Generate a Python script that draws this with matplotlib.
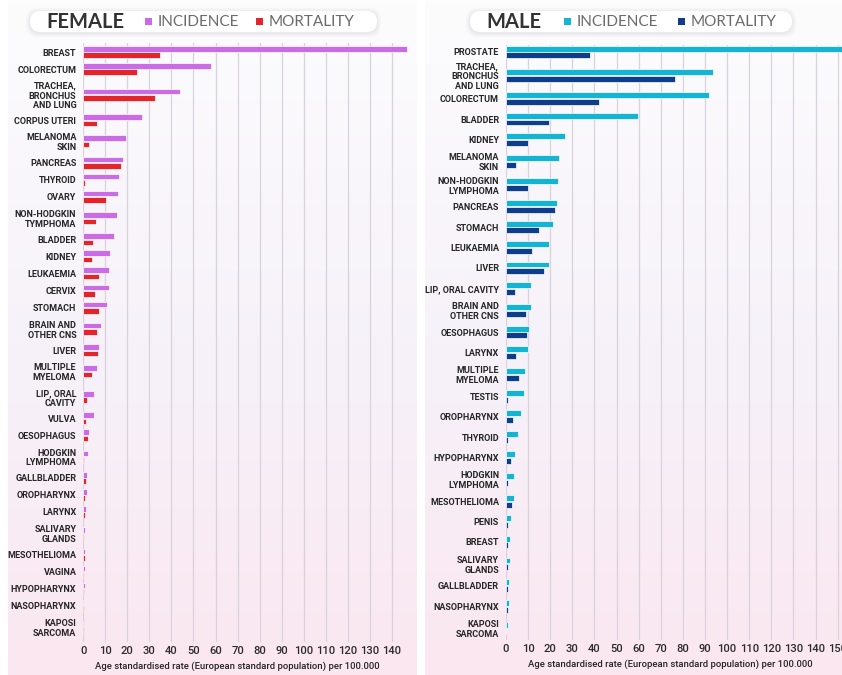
import numpy as np
import matplotlib
matplotlib.use("Agg")
import matplotlib.pyplot as plt
from matplotlib.patches import FancyBboxPatch, Rectangle

# --- data (age standardised rate per 100.000) ---
female_sites = ["BREAST", "COLORECTUM", "TRACHEA,\nBRONCHUS\nAND LUNG", "CORPUS UTERI",
                "MELANOMA\nSKIN", "PANCREAS", "THYROID", "OVARY", "NON-HODGKIN\nTYMPHOMA",
                "BLADDER", "KIDNEY", "LEUKAEMIA", "CERVIX", "STOMACH", "BRAIN AND\nOTHER CNS",
                "LIVER", "MULTIPLE\nMYELOMA", "LIP, ORAL\nCAVITY", "VULVA", "OESOPHAGUS",
                "HODGKIN\nLYMPHOMA", "GALLBLADDER", "OROPHARYNX", "LARYNX", "SALIVARY\nGLANDS",
                "MESOTHELIOMA", "VAGINA", "HYPOPHARYNX", "NASOPHARYNX", "KAPOSI\nSARCOMA"]
female_incidence = [147.0, 57.9, 44.0, 26.5, 19.4, 17.9, 16.2, 15.7, 15.3,
                    14.1, 12.3, 11.8, 11.6, 10.6, 7.9,
                    7.3, 6.0, 5.0, 4.7, 2.6,
                    2.3, 1.8, 1.8, 1.4, 0.9,
                    0.9, 0.9, 0.7, 0.5, 0.3]
female_mortality = [34.6, 24.5, 32.7, 6.0, 2.7, 16.9, 0.9, 10.3, 5.6,
                    4.5, 4.1, 7.0, 5.4, 7.3, 6.0,
                    6.5, 3.8, 1.7, 1.4, 2.0,
                    0.4, 1.2, 0.8, 0.6, 0.3,
                    0.8, 0.5, 0.3, 0.3, 0.1]

male_sites = ["PROSTATE", "TRACHEA,\nBRONCHUS\nAND LUNG", "COLORECTUM", "BLADDER", "KIDNEY",
              "MELANOMA\nSKIN", "NON-HODGKIN\nLYMPHOMA", "PANCREAS", "STOMACH", "LEUKAEMIA",
              "LIVER", "LIP, ORAL CAVITY", "BRAIN AND\nOTHER CNS", "OESOPHAGUS", "LARYNX",
              "MULTIPLE\nMYELOMA", "TESTIS", "OROPHARYNX", "THYROID", "HYPOPHARYNX",
              "HODGKIN\nLYMPHOMA", "MESOTHELIOMA", "PENIS", "BREAST", "SALIVARY\nGLANDS",
              "GALLBLADDER", "NASOPHARYNX", "KAPOSI\nSARCOMA"]
male_incidence = [158.0, 93.7, 92.0, 59.9, 26.7,
                  24.0, 23.7, 23.1, 21.1, 19.5,
                  19.6, 11.5, 11.2, 10.6, 10.1,
                  8.7, 8.3, 6.6, 5.4, 4.2,
                  3.5, 3.5, 2.3, 2.0, 1.8,
                  1.5, 1.3, 0.9]
male_mortality = [38.2, 76.5, 42.2, 19.3, 10.1,
                  4.7, 9.8, 22.0, 14.9, 11.9,
                  17.3, 4.1, 9.0, 9.4, 4.7,
                  5.7, 0.8, 3.0, 0.8, 2.1,
                  0.8, 2.7, 0.8, 0.8, 0.7,
                  0.9, 0.7, 0.2]

W, H = 842, 675
fig = plt.figure(figsize=(W / 100, H / 100), dpi=100)
fig.patch.set_facecolor("white")

LABEL_FONT = ["Roboto", "DejaVu Sans"]
HEAD_FONT = ["Lato", "DejaVu Sans"]
XLABEL = "Age standardised rate (European standard population) per 100.000"


def px(x0, y0, w, h):
    # pixel box (top-left origin) -> figure fraction
    return [x0 / W, 1 - (y0 + h) / H, w / W, h / H]


def panel_background(x0, x1):
    ax = fig.add_axes(px(x0, 0, x1 - x0, H))
    top = np.array([252, 252, 253]) / 255
    mid = np.array([246, 241, 249]) / 255
    bot = np.array([251, 231, 240]) / 255
    t = np.linspace(0, 1, 200)[:, None]
    grad = np.where(t < 0.55, top + (mid - top) * (t / 0.55), mid + (bot - mid) * ((t - 0.55) / 0.45))
    ax.imshow(grad[:, None, :].repeat(2, axis=1), aspect="auto", extent=[0, 1, 0, 1])
    ax.set_axis_off()


def header(x0, x1, title, title_x, items):
    ax = fig.add_axes([0, 0, 1, 1], facecolor="none")
    ax.set_xlim(0, W)
    ax.set_ylim(H, 0)
    ax.set_axis_off()
    # soft shadow + pill
    for grow, a in [(4, 0.04), (2.5, 0.05), (1.2, 0.06)]:
        ax.add_patch(FancyBboxPatch((x0 - grow, 11 - grow + 1), x1 - x0 + 2 * grow, 21 + 2 * grow,
                                    boxstyle="round,pad=0,rounding_size=11", fc="#8a8a9a",
                                    ec="none", alpha=a))
    ax.add_patch(FancyBboxPatch((x0, 11), x1 - x0, 21, boxstyle="round,pad=0,rounding_size=10.5",
                                fc="white", ec="none"))
    ax.text(title_x, 22, title, fontsize=14.5, fontweight="bold", color="#333333",
            family=HEAD_FONT, va="center", ha="left")
    for sq_x, color, label in items:
        ax.add_patch(Rectangle((sq_x, 18), 6.5, 6.5, fc=color, ec="none"))
        ax.text(sq_x + 13, 22, label, fontsize=11, color="#6b6b6b", family=HEAD_FONT,
                va="center", ha="left")


def row_centers(labels, base, extra):
    h = np.array([base + extra * lab.count("\n") for lab in labels])
    return np.cumsum(h) - h / 2


def bar_panel(rect, sites, inc, mort, c_inc, c_mort, xmax, base, extra, bar_h,
              pad_top, pad_bot, xlabel_x):
    ax = fig.add_axes(rect, facecolor="none")
    y = row_centers(sites, base, extra)
    off = bar_h / 2 + 0.4
    ax.barh(y - off, inc, height=bar_h, color=c_inc, edgecolor="white", linewidth=0.5, zorder=3)
    ax.barh(y + off, mort, height=bar_h, color=c_mort, edgecolor="white", linewidth=0.5, zorder=3)
    ax.set_ylim(y[-1] + pad_bot, y[0] - pad_top)
    ax.set_xlim(0, xmax)
    ax.set_yticks(y)
    ax.set_yticklabels(sites, fontsize=6.5, fontweight="bold", color="#262626",
                       family=LABEL_FONT, linespacing=1.12)
    ax.set_xticks(np.arange(0, xmax, 10))
    for lab in ax.get_xticklabels():
        lab.set_family(LABEL_FONT)
        lab.set_fontweight("medium")
    ax.tick_params(axis="x", length=0, labelsize=8, labelcolor="#2b2b2b", pad=3)
    ax.tick_params(axis="y", length=0, pad=5)
    ax.grid(axis="x", color="#d9d2dc", linewidth=0.9, zorder=0)
    ax.set_axisbelow(True)
    for s in ax.spines.values():
        s.set_visible(False)
    ax.set_xlabel(XLABEL, fontsize=6.8, color="#262626", family=LABEL_FONT,
                  fontweight="medium", labelpad=4)
    ax.xaxis.set_label_coords(xlabel_x, -0.033)
    return ax


panel_background(8, 417)
panel_background(425, 850)

bar_panel(px(83.3, 43, 325, 599), female_sites, female_incidence, female_mortality,
          "#cb6ce6", "#e3242b", 147.5, 17, 8.5, 5.6, 9, 15, 0.473)
bar_panel(px(506, 45, 155 * 2.211, 595), male_sites, male_incidence, male_mortality,
          "#14b4d4", "#0e3d8c", 155, 20.5, 3, 6.0, 7, 12, 0.48)

header(30, 377, "FEMALE", 46, [(145, "#cb6ce6", "INCIDENCE"), (256, "#e3242b", "MORTALITY")])
header(470, 792, "MALE", 486, [(564, "#14b4d4", "INCIDENCE"), (678, "#0e3d8c", "MORTALITY")])

fig.savefig("out.png", dpi=100)
